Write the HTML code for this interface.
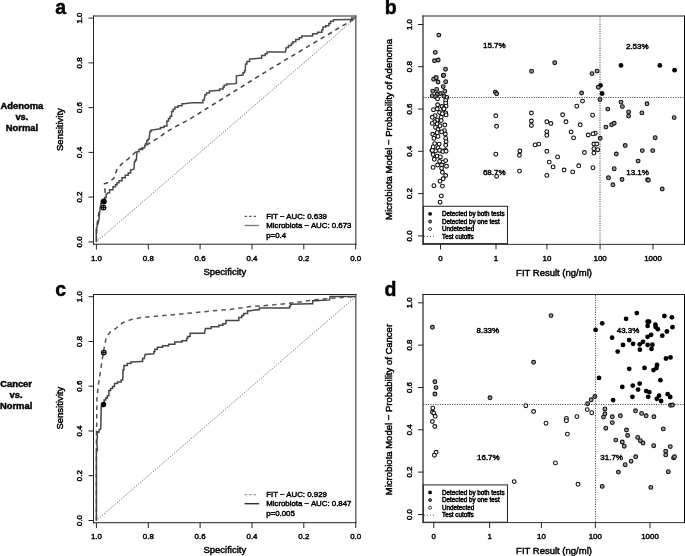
<!DOCTYPE html>
<html><head><meta charset="utf-8"><style>
html,body{margin:0;padding:0;background:#fff;}
svg{display:block;will-change:transform;}
text{font-family:"Liberation Sans", sans-serif;fill:#000;stroke:#000;stroke-width:0.45px;}
</style></head><body>
<svg width="685" height="556" viewBox="0 0 685 556">
<rect width="685" height="556" fill="#fff"/>
<path d="M93.5 15.50V244.70M93 244.20H356.35M355.85 244.70V15.50" fill="none" stroke="#222" stroke-width="1"/>
<line x1="93" y1="16.00" x2="356.35" y2="16.00" stroke="#222" stroke-width="1.15"/>
<line x1="96.4" y1="244.1" x2="96.4" y2="249.4" stroke="#222" stroke-width="1"/>
<text x="96.4" y="261.2" text-anchor="middle" font-size="7.9">1.0</text>
<line x1="148.3" y1="244.1" x2="148.3" y2="249.4" stroke="#222" stroke-width="1"/>
<text x="148.3" y="261.2" text-anchor="middle" font-size="7.9">0.8</text>
<line x1="200.1" y1="244.1" x2="200.1" y2="249.4" stroke="#222" stroke-width="1"/>
<text x="200.1" y="261.2" text-anchor="middle" font-size="7.9">0.6</text>
<line x1="252.0" y1="244.1" x2="252.0" y2="249.4" stroke="#222" stroke-width="1"/>
<text x="252.0" y="261.2" text-anchor="middle" font-size="7.9">0.4</text>
<line x1="303.8" y1="244.1" x2="303.8" y2="249.4" stroke="#222" stroke-width="1"/>
<text x="303.8" y="261.2" text-anchor="middle" font-size="7.9">0.2</text>
<line x1="355.7" y1="244.1" x2="355.7" y2="249.4" stroke="#222" stroke-width="1"/>
<text x="355.7" y="261.2" text-anchor="middle" font-size="7.9">0.0</text>
<line x1="88.5" y1="241.9" x2="93.6" y2="241.9" stroke="#222" stroke-width="1"/>
<text transform="translate(82.4,241.9) rotate(-90)" text-anchor="middle" font-size="7.9">0.0</text>
<line x1="88.5" y1="197.1" x2="93.6" y2="197.1" stroke="#222" stroke-width="1"/>
<text transform="translate(82.4,197.1) rotate(-90)" text-anchor="middle" font-size="7.9">0.2</text>
<line x1="88.5" y1="152.4" x2="93.6" y2="152.4" stroke="#222" stroke-width="1"/>
<text transform="translate(82.4,152.4) rotate(-90)" text-anchor="middle" font-size="7.9">0.4</text>
<line x1="88.5" y1="107.6" x2="93.6" y2="107.6" stroke="#222" stroke-width="1"/>
<text transform="translate(82.4,107.6) rotate(-90)" text-anchor="middle" font-size="7.9">0.6</text>
<line x1="88.5" y1="62.9" x2="93.6" y2="62.9" stroke="#222" stroke-width="1"/>
<text transform="translate(82.4,62.9) rotate(-90)" text-anchor="middle" font-size="7.9">0.8</text>
<line x1="88.5" y1="18.1" x2="93.6" y2="18.1" stroke="#222" stroke-width="1"/>
<text transform="translate(82.4,18.1) rotate(-90)" text-anchor="middle" font-size="7.9">1.0</text>
<text x="224.8" y="275.0" text-anchor="middle" font-size="9.5">Specificity</text>
<text transform="translate(62.6,129.6) rotate(-90)" text-anchor="middle" font-size="9.5">Sensitivity</text>
<line x1="96.4" y1="241.9" x2="355.7" y2="18.1" stroke="#333" stroke-width="0.8" stroke-dasharray="1 1.5"/>
<polyline points="96.4,241.9 97.0,225.0 99.0,212.0 101.0,207.0 103.5,205.0 105.4,193.7 104.9,189.7 104.4,183.8 107.4,182.8 111.8,179.8 113.8,178.3 115.3,173.9 116.8,169.9 119.7,166.0 122.2,163.5 126.7,160.0 128.0,159.1 136.1,151.5 142.6,147.8 150.7,142.4 158.8,137.6 166.9,131.6 174.0,127.5 189.0,119.6 267.1,70.9 347.6,22.8 355.7,18.1" fill="none" stroke="#444" stroke-width="1.5" stroke-dasharray="4.5 4"/>
<polyline points="96.4,241.9 96.2,229.5 97.0,226.8 97.8,224.0 98.7,221.4 99.4,214.6 100.0,209.2 100.8,203.8 101.4,203.8 101.4,201.1 102.1,201.1 103.9,200.6 104.7,200.6 104.7,197.4 105.4,197.4 106.2,197.4 106.2,194.2 106.9,194.2 107.9,192.7 109.6,192.7 109.6,189.7 111.3,189.7 113.0,189.7 113.0,186.7 114.8,186.7 115.5,186.7 115.5,184.8 116.3,184.8 117.0,184.8 117.0,182.8 117.8,182.8 119.0,182.8 119.0,180.8 120.2,180.8 122.0,180.8 122.0,177.8 123.7,177.8 125.2,177.8 125.2,175.3 126.7,175.3 128.2,175.3 128.2,172.9 129.6,172.9 130.6,172.9 130.6,169.9 131.6,169.9 134.0,168.9 134.5,161.5 135.4,161.5 135.4,159.9 136.4,159.9 136.9,151.8 138.9,151.8 138.9,149.4 141.0,149.4 142.6,149.4 142.6,147.8 144.2,147.8 144.7,147.8 144.7,145.6 145.1,145.6 145.6,145.6 145.6,143.4 146.1,143.4 146.8,143.4 146.8,140.5 147.4,140.5 148.2,140.5 148.2,138.9 149.1,138.9 149.9,131.6 151.1,131.6 151.1,130.0 152.3,130.0 158.8,129.1 160.4,129.1 160.4,127.5 162.0,127.5 164.1,127.5 164.1,125.9 166.1,125.9 166.9,125.9 166.9,121.0 167.7,121.0 168.5,121.0 168.5,118.6 169.3,118.6 170.1,118.6 170.1,116.2 170.9,116.2 171.6,116.2 171.6,111.5 172.2,111.5 173.1,111.5 173.1,109.3 174.0,109.3 174.9,109.3 174.9,107.2 175.8,107.2 178.0,107.2 178.0,105.7 180.2,105.7 182.1,105.7 182.1,103.8 183.9,103.8 191.9,102.8 201.4,102.8 202.9,102.8 202.9,99.9 204.3,99.9 205.0,94.7 206.5,94.7 206.5,92.9 207.9,92.9 209.4,92.9 209.4,91.1 210.9,91.1 216.7,90.4 219.6,90.4 219.6,88.9 222.6,88.9 223.1,88.9 223.1,87.1 223.7,87.1 224.2,87.1 224.2,85.3 224.7,85.3 226.6,85.3 226.6,84.1 228.4,84.1 234.2,83.8 236.4,83.1 236.4,75.8 242.3,75.0 243.0,75.0 243.0,72.8 243.8,72.8 244.5,72.8 244.5,70.7 245.2,70.7 245.6,64.1 246.9,64.1 246.9,61.5 248.3,61.5 249.6,61.5 249.6,59.0 251.0,59.0 259.0,58.2 261.7,58.2 261.7,55.6 264.4,55.6 265.3,55.6 265.3,53.8 266.2,53.8 267.1,53.8 267.1,52.0 268.0,52.0 285.5,52.0 286.3,47.6 288.5,47.6 288.5,45.4 290.7,45.4 291.4,45.4 291.4,43.5 292.2,43.5 292.9,43.5 292.9,41.7 293.6,41.7 295.8,41.7 295.8,39.5 298.0,39.5 299.3,39.5 299.3,37.7 300.5,37.7 301.8,37.7 301.8,35.9 303.1,35.9 311.1,35.9 312.6,35.9 312.6,33.7 314.0,33.7 317.6,33.7 317.6,32.2 321.3,32.2 321.9,32.2 321.9,29.7 322.4,29.7 323.0,29.7 323.0,27.1 323.5,27.1 325.7,27.1 325.7,25.7 327.9,25.7 328.8,25.7 328.8,23.5 329.7,23.5 330.6,23.5 330.6,21.3 331.5,21.3 333.4,21.3 333.4,19.8 335.2,19.8 347.6,19.5 351.6,19.5 351.6,18.1 355.6,18.1" fill="none" stroke="#4a4a4a" stroke-width="1.5"/>
<circle cx="103.8" cy="201.5" r="3" fill="#000"/>
<circle cx="103.5" cy="207.6" r="2.3" fill="#fff" stroke="#000" stroke-width="1.3"/>
<path d="M101.3 207.6h4.4M103.5 205.4v4.4" stroke="#000" stroke-width="1"/>
<line x1="244.6" y1="216.4" x2="256" y2="216.4" stroke="#555" stroke-width="1.2" stroke-dasharray="2.5 2"/>
<line x1="244.6" y1="225.5" x2="259.2" y2="225.5" stroke="#777" stroke-width="1.3"/>
<text x="266.2" y="219.2" font-size="7.85">FIT − AUC: 0.639</text>
<text x="266.2" y="228.3" font-size="7.85">Microbiota − AUC: 0.673</text>
<text x="266.2" y="237.9" font-size="7.85">p=0.4</text>
<path d="M93.5 294.00V523.20M93 522.70H356.35M355.85 523.20V294.00" fill="none" stroke="#222" stroke-width="1"/>
<line x1="93" y1="294.50" x2="356.35" y2="294.50" stroke="#222" stroke-width="1"/>
<line x1="96.4" y1="522.7" x2="96.4" y2="528.0" stroke="#222" stroke-width="1"/>
<text x="96.4" y="539.3" text-anchor="middle" font-size="7.9">1.0</text>
<line x1="148.3" y1="522.7" x2="148.3" y2="528.0" stroke="#222" stroke-width="1"/>
<text x="148.3" y="539.3" text-anchor="middle" font-size="7.9">0.8</text>
<line x1="200.1" y1="522.7" x2="200.1" y2="528.0" stroke="#222" stroke-width="1"/>
<text x="200.1" y="539.3" text-anchor="middle" font-size="7.9">0.6</text>
<line x1="252.0" y1="522.7" x2="252.0" y2="528.0" stroke="#222" stroke-width="1"/>
<text x="252.0" y="539.3" text-anchor="middle" font-size="7.9">0.4</text>
<line x1="303.8" y1="522.7" x2="303.8" y2="528.0" stroke="#222" stroke-width="1"/>
<text x="303.8" y="539.3" text-anchor="middle" font-size="7.9">0.2</text>
<line x1="355.7" y1="522.7" x2="355.7" y2="528.0" stroke="#222" stroke-width="1"/>
<text x="355.7" y="539.3" text-anchor="middle" font-size="7.9">0.0</text>
<line x1="88.5" y1="520.5" x2="93.6" y2="520.5" stroke="#222" stroke-width="1"/>
<text transform="translate(82.4,520.5) rotate(-90)" text-anchor="middle" font-size="7.9">0.0</text>
<line x1="88.5" y1="475.7" x2="93.6" y2="475.7" stroke="#222" stroke-width="1"/>
<text transform="translate(82.4,475.7) rotate(-90)" text-anchor="middle" font-size="7.9">0.2</text>
<line x1="88.5" y1="431.0" x2="93.6" y2="431.0" stroke="#222" stroke-width="1"/>
<text transform="translate(82.4,431.0) rotate(-90)" text-anchor="middle" font-size="7.9">0.4</text>
<line x1="88.5" y1="386.2" x2="93.6" y2="386.2" stroke="#222" stroke-width="1"/>
<text transform="translate(82.4,386.2) rotate(-90)" text-anchor="middle" font-size="7.9">0.6</text>
<line x1="88.5" y1="341.5" x2="93.6" y2="341.5" stroke="#222" stroke-width="1"/>
<text transform="translate(82.4,341.5) rotate(-90)" text-anchor="middle" font-size="7.9">0.8</text>
<line x1="88.5" y1="296.7" x2="93.6" y2="296.7" stroke="#222" stroke-width="1"/>
<text transform="translate(82.4,296.7) rotate(-90)" text-anchor="middle" font-size="7.9">1.0</text>
<text x="224.8" y="553.0" text-anchor="middle" font-size="9.5">Specificity</text>
<text transform="translate(62.6,408.2) rotate(-90)" text-anchor="middle" font-size="9.5">Sensitivity</text>
<line x1="96.4" y1="520.5" x2="355.7" y2="296.7" stroke="#333" stroke-width="0.8" stroke-dasharray="1 1.5"/>
<polyline points="96.4,520.6 96.4,440.0 96.7,425.0 96.9,399.0 98.2,386.1 99.8,375.8 101.9,361.5 104.3,347.2 106.3,337.0 110.4,331.9 116.6,327.8 122.7,322.7 130.9,319.6 141.1,317.6 151.3,316.6 171.7,314.9 192.2,312.9 212.6,310.8 230.0,309.4 248.7,306.8 274.3,304.8 294.0,302.8 313.7,299.9 331.4,298.3 355.7,296.5" fill="none" stroke="#555" stroke-width="1.5" stroke-dasharray="4.5 4"/>
<polyline points="96.4,520.6 96.4,452.0 97.4,449.9 96.7,441.8 97.4,436.4 96.7,431.6 98.8,432.3 99.4,429.6 100.8,428.9 101.2,406.6 102.3,406.6 102.3,404.6 103.5,404.6 104.2,404.6 104.2,399.9 104.8,399.9 105.7,399.9 105.7,397.9 106.5,397.9 107.3,397.9 107.3,395.8 108.2,395.8 108.9,395.8 108.9,390.4 109.6,390.4 110.6,390.4 110.6,388.4 111.6,388.4 112.6,388.4 112.6,386.4 113.6,386.4 114.5,386.4 114.5,383.6 115.5,383.6 117.5,383.6 117.5,382.0 119.6,382.0 121.2,382.0 121.2,379.9 122.7,379.9 123.1,369.7 123.9,369.7 123.9,365.6 124.7,365.6 127.3,365.6 127.3,363.6 129.9,363.6 130.9,363.6 130.9,361.9 131.9,361.9 141.1,361.5 142.6,361.5 142.6,358.5 144.2,358.5 145.2,354.4 153.4,353.8 153.9,353.8 153.9,351.6 154.4,351.6 154.9,351.6 154.9,349.3 155.4,349.3 157.4,349.3 157.4,347.2 159.5,347.2 162.6,347.2 162.6,345.8 165.6,345.8 168.6,345.8 168.6,344.2 171.7,344.2 174.8,344.2 174.8,342.1 177.9,342.1 182.0,342.1 182.0,340.7 186.1,340.7 186.6,340.7 186.6,338.6 187.1,338.6 187.6,338.6 187.6,336.6 188.1,336.6 190.1,336.6 190.1,333.3 192.2,333.3 204.4,333.3 205.5,328.4 211.1,328.4 211.1,326.8 216.7,326.8 218.8,326.8 218.8,325.2 220.8,325.2 222.9,325.2 222.9,323.7 224.9,323.7 225.9,323.7 225.9,320.5 227.0,320.5 236.8,320.5 238.8,320.5 238.8,317.6 240.8,317.6 241.8,317.6 241.8,315.6 242.8,315.6 243.7,315.6 243.7,313.6 244.7,313.6 247.6,313.6 247.6,310.7 250.6,310.7 256.5,309.7 259.4,309.7 259.4,308.1 262.4,308.1 289.1,308.1 289.6,308.1 289.6,306.1 290.1,306.1 290.5,306.1 290.5,304.2 291.0,304.2 309.7,303.8 312.7,303.8 312.7,300.8 315.7,300.8 329.5,299.9 330.1,296.5 355.7,296.5" fill="none" stroke="#444" stroke-width="1.5"/>
<circle cx="103.5" cy="404.5" r="2.7" fill="#000"/>
<circle cx="103.8" cy="352.6" r="2.3" fill="#fff" stroke="#000" stroke-width="1.3"/>
<path d="M101.6 352.6h4.4M103.8 350.4v4.4" stroke="#000" stroke-width="1"/>
<line x1="244.6" y1="494.6" x2="256" y2="494.6" stroke="#999" stroke-width="1.2" stroke-dasharray="2.5 2"/>
<line x1="244.6" y1="503.7" x2="259.2" y2="503.7" stroke="#222" stroke-width="1.3"/>
<text x="266.2" y="497.0" font-size="7.85">FIT − AUC: 0.929</text>
<text x="266.2" y="506.1" font-size="7.85">Microbiota − AUC: 0.847</text>
<text x="266.2" y="515.6" font-size="7.85">p=0.005</text>
<circle cx="438.8" cy="35.1" r="1.9" fill="#999" stroke="#111" stroke-width="1.1"/>
<circle cx="435.3" cy="52.4" r="1.9" fill="#999" stroke="#111" stroke-width="1.1"/>
<circle cx="434.5" cy="60.8" r="1.9" fill="#999" stroke="#111" stroke-width="1.1"/>
<circle cx="438.2" cy="60.0" r="1.9" fill="#999" stroke="#111" stroke-width="1.1"/>
<circle cx="445.5" cy="69.2" r="1.9" fill="#999" stroke="#111" stroke-width="1.1"/>
<circle cx="443.4" cy="75.6" r="1.9" fill="#999" stroke="#111" stroke-width="1.1"/>
<circle cx="435.8" cy="77.8" r="1.9" fill="#999" stroke="#111" stroke-width="1.1"/>
<circle cx="433.6" cy="79.2" r="1.9" fill="#999" stroke="#111" stroke-width="1.1"/>
<circle cx="443.6" cy="75.3" r="1.9" fill="#999" stroke="#111" stroke-width="1.1"/>
<circle cx="436.3" cy="77.7" r="1.9" fill="#999" stroke="#111" stroke-width="1.1"/>
<circle cx="438.0" cy="82.0" r="1.9" fill="#999" stroke="#111" stroke-width="1.1"/>
<circle cx="445.7" cy="81.7" r="1.9" fill="#999" stroke="#111" stroke-width="1.1"/>
<circle cx="443.2" cy="86.6" r="1.9" fill="#999" stroke="#111" stroke-width="1.1"/>
<circle cx="432.7" cy="91.1" r="1.9" fill="#999" stroke="#111" stroke-width="1.1"/>
<circle cx="436.7" cy="89.4" r="1.9" fill="#999" stroke="#111" stroke-width="1.1"/>
<circle cx="444.8" cy="91.2" r="1.9" fill="#999" stroke="#111" stroke-width="1.1"/>
<circle cx="440.4" cy="93.5" r="1.9" fill="#999" stroke="#111" stroke-width="1.1"/>
<circle cx="437.2" cy="94.3" r="1.9" fill="#999" stroke="#111" stroke-width="1.1"/>
<circle cx="432.3" cy="95.9" r="1.9" fill="#999" stroke="#111" stroke-width="1.1"/>
<circle cx="435.5" cy="96.7" r="1.9" fill="#999" stroke="#111" stroke-width="1.1"/>
<circle cx="444.0" cy="96.3" r="1.9" fill="#999" stroke="#111" stroke-width="1.1"/>
<circle cx="446.9" cy="97.5" r="1.9" fill="#fff" stroke="#111" stroke-width="1.1"/>
<circle cx="437.6" cy="98.8" r="1.9" fill="#fff" stroke="#111" stroke-width="1.1"/>
<circle cx="445.7" cy="100.4" r="1.9" fill="#fff" stroke="#111" stroke-width="1.1"/>
<circle cx="445.7" cy="103.2" r="1.9" fill="#fff" stroke="#111" stroke-width="1.1"/>
<circle cx="437.6" cy="104.8" r="1.9" fill="#fff" stroke="#111" stroke-width="1.1"/>
<circle cx="442.0" cy="106.5" r="1.9" fill="#fff" stroke="#111" stroke-width="1.1"/>
<circle cx="446.1" cy="106.1" r="1.9" fill="#fff" stroke="#111" stroke-width="1.1"/>
<circle cx="443.6" cy="108.9" r="1.9" fill="#fff" stroke="#111" stroke-width="1.1"/>
<circle cx="433.5" cy="109.7" r="1.9" fill="#fff" stroke="#111" stroke-width="1.1"/>
<circle cx="439.6" cy="112.5" r="1.9" fill="#fff" stroke="#111" stroke-width="1.1"/>
<circle cx="445.7" cy="112.9" r="1.9" fill="#fff" stroke="#111" stroke-width="1.1"/>
<circle cx="437.2" cy="108.8" r="1.9" fill="#fff" stroke="#111" stroke-width="1.1"/>
<circle cx="444.0" cy="108.8" r="1.9" fill="#fff" stroke="#111" stroke-width="1.1"/>
<circle cx="442.4" cy="113.7" r="1.9" fill="#fff" stroke="#111" stroke-width="1.1"/>
<circle cx="446.1" cy="114.9" r="1.9" fill="#fff" stroke="#111" stroke-width="1.1"/>
<circle cx="435.1" cy="115.7" r="1.9" fill="#fff" stroke="#111" stroke-width="1.1"/>
<circle cx="432.3" cy="117.3" r="1.9" fill="#fff" stroke="#111" stroke-width="1.1"/>
<circle cx="441.2" cy="117.3" r="1.9" fill="#fff" stroke="#111" stroke-width="1.1"/>
<circle cx="437.2" cy="120.2" r="1.9" fill="#fff" stroke="#111" stroke-width="1.1"/>
<circle cx="441.2" cy="120.6" r="1.9" fill="#fff" stroke="#111" stroke-width="1.1"/>
<circle cx="434.7" cy="121.8" r="1.9" fill="#fff" stroke="#111" stroke-width="1.1"/>
<circle cx="432.3" cy="123.4" r="1.9" fill="#fff" stroke="#111" stroke-width="1.1"/>
<circle cx="437.2" cy="123.8" r="1.9" fill="#fff" stroke="#111" stroke-width="1.1"/>
<circle cx="444.8" cy="125.0" r="1.9" fill="#fff" stroke="#111" stroke-width="1.1"/>
<circle cx="440.0" cy="125.8" r="1.9" fill="#fff" stroke="#111" stroke-width="1.1"/>
<circle cx="435.5" cy="127.4" r="1.9" fill="#fff" stroke="#111" stroke-width="1.1"/>
<circle cx="438.0" cy="129.5" r="1.9" fill="#fff" stroke="#111" stroke-width="1.1"/>
<circle cx="444.4" cy="130.7" r="1.9" fill="#fff" stroke="#111" stroke-width="1.1"/>
<circle cx="441.6" cy="131.9" r="1.9" fill="#fff" stroke="#111" stroke-width="1.1"/>
<circle cx="437.2" cy="132.7" r="1.9" fill="#fff" stroke="#111" stroke-width="1.1"/>
<circle cx="432.7" cy="134.3" r="1.9" fill="#fff" stroke="#111" stroke-width="1.1"/>
<circle cx="445.3" cy="134.0" r="1.9" fill="#fff" stroke="#111" stroke-width="1.1"/>
<circle cx="434.7" cy="136.4" r="1.9" fill="#fff" stroke="#111" stroke-width="1.1"/>
<circle cx="438.0" cy="136.4" r="1.9" fill="#fff" stroke="#111" stroke-width="1.1"/>
<circle cx="433.9" cy="138.4" r="1.9" fill="#fff" stroke="#111" stroke-width="1.1"/>
<circle cx="445.7" cy="138.4" r="1.9" fill="#fff" stroke="#111" stroke-width="1.1"/>
<circle cx="446.1" cy="141.6" r="1.9" fill="#fff" stroke="#111" stroke-width="1.1"/>
<circle cx="434.7" cy="143.6" r="1.9" fill="#fff" stroke="#111" stroke-width="1.1"/>
<circle cx="439.2" cy="144.1" r="1.9" fill="#fff" stroke="#111" stroke-width="1.1"/>
<circle cx="445.7" cy="145.3" r="1.9" fill="#fff" stroke="#111" stroke-width="1.1"/>
<circle cx="433.1" cy="146.9" r="1.9" fill="#fff" stroke="#111" stroke-width="1.1"/>
<circle cx="438.0" cy="147.7" r="1.9" fill="#fff" stroke="#111" stroke-width="1.1"/>
<circle cx="431.9" cy="150.5" r="1.9" fill="#fff" stroke="#111" stroke-width="1.1"/>
<circle cx="435.5" cy="150.9" r="1.9" fill="#fff" stroke="#111" stroke-width="1.1"/>
<circle cx="441.6" cy="150.9" r="1.9" fill="#fff" stroke="#111" stroke-width="1.1"/>
<circle cx="445.3" cy="150.1" r="1.9" fill="#fff" stroke="#111" stroke-width="1.1"/>
<circle cx="432.3" cy="150.4" r="1.9" fill="#fff" stroke="#111" stroke-width="1.1"/>
<circle cx="439.6" cy="150.4" r="1.9" fill="#fff" stroke="#111" stroke-width="1.1"/>
<circle cx="442.8" cy="151.6" r="1.9" fill="#fff" stroke="#111" stroke-width="1.1"/>
<circle cx="446.1" cy="151.2" r="1.9" fill="#fff" stroke="#111" stroke-width="1.1"/>
<circle cx="433.1" cy="154.5" r="1.9" fill="#fff" stroke="#111" stroke-width="1.1"/>
<circle cx="437.2" cy="156.1" r="1.9" fill="#fff" stroke="#111" stroke-width="1.1"/>
<circle cx="440.4" cy="156.9" r="1.9" fill="#fff" stroke="#111" stroke-width="1.1"/>
<circle cx="434.3" cy="159.3" r="1.9" fill="#fff" stroke="#111" stroke-width="1.1"/>
<circle cx="439.6" cy="161.4" r="1.9" fill="#fff" stroke="#111" stroke-width="1.1"/>
<circle cx="443.2" cy="162.2" r="1.9" fill="#fff" stroke="#111" stroke-width="1.1"/>
<circle cx="445.7" cy="160.6" r="1.9" fill="#fff" stroke="#111" stroke-width="1.1"/>
<circle cx="437.6" cy="165.0" r="1.9" fill="#fff" stroke="#111" stroke-width="1.1"/>
<circle cx="441.6" cy="165.0" r="1.9" fill="#fff" stroke="#111" stroke-width="1.1"/>
<circle cx="433.1" cy="167.4" r="1.9" fill="#fff" stroke="#111" stroke-width="1.1"/>
<circle cx="446.5" cy="166.2" r="1.9" fill="#fff" stroke="#111" stroke-width="1.1"/>
<circle cx="441.6" cy="168.3" r="1.9" fill="#fff" stroke="#111" stroke-width="1.1"/>
<circle cx="442.4" cy="172.3" r="1.9" fill="#fff" stroke="#111" stroke-width="1.1"/>
<circle cx="445.7" cy="175.5" r="1.9" fill="#fff" stroke="#111" stroke-width="1.1"/>
<circle cx="443.2" cy="178.8" r="1.9" fill="#fff" stroke="#111" stroke-width="1.1"/>
<circle cx="440.0" cy="181.2" r="1.9" fill="#fff" stroke="#111" stroke-width="1.1"/>
<circle cx="433.9" cy="185.7" r="1.9" fill="#fff" stroke="#111" stroke-width="1.1"/>
<circle cx="442.4" cy="186.1" r="1.9" fill="#fff" stroke="#111" stroke-width="1.1"/>
<circle cx="441.3" cy="195.9" r="1.9" fill="#fff" stroke="#111" stroke-width="1.1"/>
<circle cx="440.1" cy="202.2" r="1.9" fill="#fff" stroke="#111" stroke-width="1.1"/>
<circle cx="554.7" cy="62.8" r="1.9" fill="#999" stroke="#111" stroke-width="1.1"/>
<circle cx="531.6" cy="71.2" r="1.9" fill="#999" stroke="#111" stroke-width="1.1"/>
<circle cx="495.3" cy="92.1" r="1.9" fill="#999" stroke="#111" stroke-width="1.1"/>
<circle cx="496.6" cy="93.8" r="1.9" fill="#999" stroke="#111" stroke-width="1.1"/>
<circle cx="495.8" cy="115.8" r="1.9" fill="#fff" stroke="#111" stroke-width="1.1"/>
<circle cx="496.6" cy="126.3" r="1.9" fill="#fff" stroke="#111" stroke-width="1.1"/>
<circle cx="531.4" cy="113.0" r="1.9" fill="#fff" stroke="#111" stroke-width="1.1"/>
<circle cx="531.4" cy="121.0" r="1.9" fill="#fff" stroke="#111" stroke-width="1.1"/>
<circle cx="531.4" cy="125.5" r="1.9" fill="#fff" stroke="#111" stroke-width="1.1"/>
<circle cx="546.8" cy="121.8" r="1.9" fill="#fff" stroke="#111" stroke-width="1.1"/>
<circle cx="550.9" cy="123.5" r="1.9" fill="#fff" stroke="#111" stroke-width="1.1"/>
<circle cx="546.8" cy="131.6" r="1.9" fill="#fff" stroke="#111" stroke-width="1.1"/>
<circle cx="546.8" cy="135.3" r="1.9" fill="#fff" stroke="#111" stroke-width="1.1"/>
<circle cx="535.1" cy="144.9" r="1.9" fill="#fff" stroke="#111" stroke-width="1.1"/>
<circle cx="538.8" cy="144.1" r="1.9" fill="#fff" stroke="#111" stroke-width="1.1"/>
<circle cx="546.8" cy="151.3" r="1.9" fill="#fff" stroke="#111" stroke-width="1.1"/>
<circle cx="557.6" cy="156.9" r="1.9" fill="#fff" stroke="#111" stroke-width="1.1"/>
<circle cx="495.8" cy="154.2" r="1.9" fill="#fff" stroke="#111" stroke-width="1.1"/>
<circle cx="519.9" cy="151.0" r="1.9" fill="#fff" stroke="#111" stroke-width="1.1"/>
<circle cx="519.4" cy="155.3" r="1.9" fill="#fff" stroke="#111" stroke-width="1.1"/>
<circle cx="549.2" cy="162.1" r="1.9" fill="#fff" stroke="#111" stroke-width="1.1"/>
<circle cx="553.1" cy="166.9" r="1.9" fill="#fff" stroke="#111" stroke-width="1.1"/>
<circle cx="519.5" cy="171.1" r="1.9" fill="#fff" stroke="#111" stroke-width="1.1"/>
<circle cx="546.8" cy="175.4" r="1.9" fill="#fff" stroke="#111" stroke-width="1.1"/>
<circle cx="496.6" cy="176.2" r="1.9" fill="#fff" stroke="#111" stroke-width="1.1"/>
<circle cx="621.0" cy="65.4" r="2.4" fill="#000"/>
<circle cx="659.8" cy="65.4" r="2.4" fill="#000"/>
<circle cx="674.6" cy="70.2" r="2.4" fill="#000"/>
<circle cx="597.1" cy="71.1" r="1.9" fill="#999" stroke="#111" stroke-width="1.1"/>
<circle cx="592.0" cy="73.6" r="1.9" fill="#999" stroke="#111" stroke-width="1.1"/>
<circle cx="600.5" cy="85.4" r="2.4" fill="#000"/>
<circle cx="598.3" cy="87.3" r="1.9" fill="#999" stroke="#111" stroke-width="1.1"/>
<circle cx="602.1" cy="93.5" r="2.4" fill="#000"/>
<circle cx="581.6" cy="93.0" r="1.9" fill="#999" stroke="#111" stroke-width="1.1"/>
<circle cx="582.5" cy="101.1" r="1.9" fill="#fff" stroke="#111" stroke-width="1.1"/>
<circle cx="600.0" cy="99.6" r="1.9" fill="#999" stroke="#111" stroke-width="1.1"/>
<circle cx="576.8" cy="106.2" r="1.9" fill="#fff" stroke="#111" stroke-width="1.1"/>
<circle cx="621.0" cy="102.1" r="1.9" fill="#999" stroke="#111" stroke-width="1.1"/>
<circle cx="622.4" cy="106.6" r="1.9" fill="#999" stroke="#111" stroke-width="1.1"/>
<circle cx="647.0" cy="103.8" r="1.9" fill="#999" stroke="#111" stroke-width="1.1"/>
<circle cx="607.8" cy="109.1" r="1.9" fill="#999" stroke="#111" stroke-width="1.1"/>
<circle cx="562.6" cy="114.8" r="1.9" fill="#fff" stroke="#111" stroke-width="1.1"/>
<circle cx="592.6" cy="115.2" r="1.9" fill="#fff" stroke="#111" stroke-width="1.1"/>
<circle cx="628.6" cy="111.9" r="1.9" fill="#999" stroke="#111" stroke-width="1.1"/>
<circle cx="628.6" cy="116.1" r="1.9" fill="#999" stroke="#111" stroke-width="1.1"/>
<circle cx="641.9" cy="112.9" r="1.9" fill="#999" stroke="#111" stroke-width="1.1"/>
<circle cx="674.2" cy="117.6" r="1.9" fill="#999" stroke="#111" stroke-width="1.1"/>
<circle cx="566.0" cy="121.8" r="1.9" fill="#fff" stroke="#111" stroke-width="1.1"/>
<circle cx="580.2" cy="124.8" r="1.9" fill="#fff" stroke="#111" stroke-width="1.1"/>
<circle cx="605.9" cy="127.1" r="1.9" fill="#999" stroke="#111" stroke-width="1.1"/>
<circle cx="611.6" cy="124.8" r="1.9" fill="#999" stroke="#111" stroke-width="1.1"/>
<circle cx="614.2" cy="123.3" r="1.9" fill="#999" stroke="#111" stroke-width="1.1"/>
<circle cx="571.1" cy="131.9" r="1.9" fill="#fff" stroke="#111" stroke-width="1.1"/>
<circle cx="588.2" cy="135.0" r="1.9" fill="#fff" stroke="#111" stroke-width="1.1"/>
<circle cx="595.2" cy="133.2" r="1.9" fill="#fff" stroke="#111" stroke-width="1.1"/>
<circle cx="573.6" cy="137.9" r="1.9" fill="#fff" stroke="#111" stroke-width="1.1"/>
<circle cx="593.0" cy="133.9" r="1.9" fill="#fff" stroke="#111" stroke-width="1.1"/>
<circle cx="600.2" cy="138.3" r="1.9" fill="#999" stroke="#111" stroke-width="1.1"/>
<circle cx="655.2" cy="137.7" r="1.9" fill="#999" stroke="#111" stroke-width="1.1"/>
<circle cx="625.2" cy="145.5" r="1.9" fill="#999" stroke="#111" stroke-width="1.1"/>
<circle cx="593.9" cy="144.0" r="1.9" fill="#fff" stroke="#111" stroke-width="1.1"/>
<circle cx="596.8" cy="144.0" r="1.9" fill="#fff" stroke="#111" stroke-width="1.1"/>
<circle cx="593.9" cy="148.7" r="1.9" fill="#fff" stroke="#111" stroke-width="1.1"/>
<circle cx="597.7" cy="149.7" r="1.9" fill="#fff" stroke="#111" stroke-width="1.1"/>
<circle cx="593.9" cy="153.1" r="1.9" fill="#fff" stroke="#111" stroke-width="1.1"/>
<circle cx="584.4" cy="152.5" r="1.9" fill="#fff" stroke="#111" stroke-width="1.1"/>
<circle cx="642.3" cy="150.6" r="1.9" fill="#999" stroke="#111" stroke-width="1.1"/>
<circle cx="652.7" cy="150.6" r="1.9" fill="#999" stroke="#111" stroke-width="1.1"/>
<circle cx="616.3" cy="154.0" r="1.9" fill="#999" stroke="#111" stroke-width="1.1"/>
<circle cx="638.1" cy="161.1" r="1.9" fill="#999" stroke="#111" stroke-width="1.1"/>
<circle cx="564.1" cy="170.0" r="1.9" fill="#fff" stroke="#111" stroke-width="1.1"/>
<circle cx="572.7" cy="171.9" r="1.9" fill="#fff" stroke="#111" stroke-width="1.1"/>
<circle cx="578.7" cy="165.8" r="1.9" fill="#fff" stroke="#111" stroke-width="1.1"/>
<circle cx="593.0" cy="167.7" r="1.9" fill="#fff" stroke="#111" stroke-width="1.1"/>
<circle cx="614.2" cy="168.7" r="1.9" fill="#999" stroke="#111" stroke-width="1.1"/>
<circle cx="608.5" cy="177.8" r="1.9" fill="#999" stroke="#111" stroke-width="1.1"/>
<circle cx="622.0" cy="179.5" r="1.9" fill="#999" stroke="#111" stroke-width="1.1"/>
<circle cx="612.9" cy="184.8" r="1.9" fill="#999" stroke="#111" stroke-width="1.1"/>
<circle cx="647.6" cy="179.7" r="1.9" fill="#999" stroke="#111" stroke-width="1.1"/>
<circle cx="648.4" cy="180.2" r="1.9" fill="#999" stroke="#111" stroke-width="1.1"/>
<circle cx="662.2" cy="189.0" r="1.9" fill="#999" stroke="#111" stroke-width="1.1"/>
<circle cx="432.4" cy="327.3" r="1.9" fill="#999" stroke="#111" stroke-width="1.1"/>
<circle cx="434.9" cy="381.8" r="1.9" fill="#999" stroke="#111" stroke-width="1.1"/>
<circle cx="436.0" cy="387.6" r="1.9" fill="#999" stroke="#111" stroke-width="1.1"/>
<circle cx="434.9" cy="394.0" r="1.9" fill="#999" stroke="#111" stroke-width="1.1"/>
<circle cx="490.0" cy="397.8" r="1.9" fill="#999" stroke="#111" stroke-width="1.1"/>
<circle cx="432.8" cy="408.1" r="1.9" fill="#fff" stroke="#111" stroke-width="1.1"/>
<circle cx="432.4" cy="412.0" r="1.9" fill="#fff" stroke="#111" stroke-width="1.1"/>
<circle cx="433.8" cy="413.2" r="1.9" fill="#fff" stroke="#111" stroke-width="1.1"/>
<circle cx="435.2" cy="416.3" r="1.9" fill="#fff" stroke="#111" stroke-width="1.1"/>
<circle cx="432.4" cy="421.5" r="1.9" fill="#fff" stroke="#111" stroke-width="1.1"/>
<circle cx="434.8" cy="426.5" r="1.9" fill="#fff" stroke="#111" stroke-width="1.1"/>
<circle cx="436.1" cy="452.3" r="1.9" fill="#fff" stroke="#111" stroke-width="1.1"/>
<circle cx="434.4" cy="455.2" r="1.9" fill="#fff" stroke="#111" stroke-width="1.1"/>
<circle cx="551.1" cy="315.6" r="1.9" fill="#999" stroke="#111" stroke-width="1.1"/>
<circle cx="595.6" cy="329.9" r="2.4" fill="#000"/>
<circle cx="533.6" cy="362.3" r="1.9" fill="#999" stroke="#111" stroke-width="1.1"/>
<circle cx="599.0" cy="377.9" r="2.4" fill="#000"/>
<circle cx="594.9" cy="396.5" r="1.9" fill="#999" stroke="#111" stroke-width="1.1"/>
<circle cx="591.2" cy="399.8" r="1.9" fill="#999" stroke="#111" stroke-width="1.1"/>
<circle cx="587.6" cy="403.8" r="1.9" fill="#999" stroke="#111" stroke-width="1.1"/>
<circle cx="525.8" cy="405.7" r="1.9" fill="#fff" stroke="#111" stroke-width="1.1"/>
<circle cx="533.6" cy="411.5" r="1.9" fill="#fff" stroke="#111" stroke-width="1.1"/>
<circle cx="587.2" cy="409.6" r="1.9" fill="#fff" stroke="#111" stroke-width="1.1"/>
<circle cx="591.7" cy="412.7" r="1.9" fill="#fff" stroke="#111" stroke-width="1.1"/>
<circle cx="576.9" cy="416.6" r="1.9" fill="#fff" stroke="#111" stroke-width="1.1"/>
<circle cx="566.4" cy="418.4" r="1.9" fill="#fff" stroke="#111" stroke-width="1.1"/>
<circle cx="566.4" cy="420.7" r="1.9" fill="#fff" stroke="#111" stroke-width="1.1"/>
<circle cx="546.0" cy="423.2" r="1.9" fill="#fff" stroke="#111" stroke-width="1.1"/>
<circle cx="567.4" cy="434.1" r="1.9" fill="#fff" stroke="#111" stroke-width="1.1"/>
<circle cx="555.4" cy="462.9" r="1.9" fill="#fff" stroke="#111" stroke-width="1.1"/>
<circle cx="514.2" cy="481.6" r="1.9" fill="#fff" stroke="#111" stroke-width="1.1"/>
<circle cx="578.0" cy="484.3" r="1.9" fill="#fff" stroke="#111" stroke-width="1.1"/>
<circle cx="602.2" cy="323.3" r="2.4" fill="#000"/>
<circle cx="626.1" cy="318.8" r="2.4" fill="#000"/>
<circle cx="636.8" cy="313.1" r="2.4" fill="#000"/>
<circle cx="612.1" cy="337.7" r="2.4" fill="#000"/>
<circle cx="623.0" cy="344.9" r="2.4" fill="#000"/>
<circle cx="617.7" cy="351.6" r="2.4" fill="#000"/>
<circle cx="629.2" cy="340.1" r="2.4" fill="#000"/>
<circle cx="633.1" cy="343.8" r="2.4" fill="#000"/>
<circle cx="639.7" cy="344.3" r="2.4" fill="#000"/>
<circle cx="643.0" cy="341.8" r="2.4" fill="#000"/>
<circle cx="639.9" cy="349.7" r="2.4" fill="#000"/>
<circle cx="647.6" cy="321.7" r="2.4" fill="#000"/>
<circle cx="649.1" cy="321.7" r="2.4" fill="#000"/>
<circle cx="647.6" cy="325.9" r="2.4" fill="#000"/>
<circle cx="647.6" cy="336.8" r="2.4" fill="#000"/>
<circle cx="651.1" cy="334.8" r="2.4" fill="#000"/>
<circle cx="647.6" cy="344.9" r="2.4" fill="#000"/>
<circle cx="652.4" cy="344.7" r="2.4" fill="#000"/>
<circle cx="651.5" cy="348.9" r="2.4" fill="#000"/>
<circle cx="655.4" cy="324.6" r="2.4" fill="#000"/>
<circle cx="655.7" cy="326.9" r="2.4" fill="#000"/>
<circle cx="657.8" cy="329.2" r="2.4" fill="#000"/>
<circle cx="662.3" cy="335.7" r="2.4" fill="#000"/>
<circle cx="666.9" cy="331.5" r="2.4" fill="#000"/>
<circle cx="664.4" cy="316.0" r="2.4" fill="#000"/>
<circle cx="671.9" cy="317.3" r="2.4" fill="#000"/>
<circle cx="672.5" cy="327.2" r="2.4" fill="#000"/>
<circle cx="666.0" cy="358.5" r="2.4" fill="#000"/>
<circle cx="670.5" cy="357.4" r="2.4" fill="#000"/>
<circle cx="629.2" cy="368.8" r="2.4" fill="#000"/>
<circle cx="644.5" cy="367.9" r="2.4" fill="#000"/>
<circle cx="657.0" cy="364.9" r="2.4" fill="#000"/>
<circle cx="656.5" cy="368.1" r="2.4" fill="#000"/>
<circle cx="653.5" cy="370.1" r="2.4" fill="#000"/>
<circle cx="660.4" cy="380.2" r="2.4" fill="#000"/>
<circle cx="622.3" cy="386.9" r="2.4" fill="#000"/>
<circle cx="632.8" cy="385.6" r="2.4" fill="#000"/>
<circle cx="639.7" cy="383.6" r="2.4" fill="#000"/>
<circle cx="638.1" cy="389.6" r="2.4" fill="#000"/>
<circle cx="646.2" cy="391.1" r="2.4" fill="#000"/>
<circle cx="649.3" cy="392.1" r="2.4" fill="#000"/>
<circle cx="648.2" cy="396.8" r="2.4" fill="#000"/>
<circle cx="632.4" cy="396.8" r="2.4" fill="#000"/>
<circle cx="613.1" cy="400.1" r="2.4" fill="#000"/>
<circle cx="659.0" cy="395.7" r="2.4" fill="#000"/>
<circle cx="656.8" cy="398.8" r="2.4" fill="#000"/>
<circle cx="661.1" cy="401.0" r="2.4" fill="#000"/>
<circle cx="667.7" cy="394.2" r="2.4" fill="#000"/>
<circle cx="670.2" cy="397.0" r="2.4" fill="#000"/>
<circle cx="670.5" cy="405.3" r="1.9" fill="#999" stroke="#111" stroke-width="1.1"/>
<circle cx="672.5" cy="405.0" r="1.9" fill="#999" stroke="#111" stroke-width="1.1"/>
<circle cx="604.9" cy="408.9" r="1.9" fill="#999" stroke="#111" stroke-width="1.1"/>
<circle cx="635.5" cy="410.8" r="1.9" fill="#999" stroke="#111" stroke-width="1.1"/>
<circle cx="604.9" cy="413.8" r="1.9" fill="#999" stroke="#111" stroke-width="1.1"/>
<circle cx="603.5" cy="417.1" r="1.9" fill="#999" stroke="#111" stroke-width="1.1"/>
<circle cx="612.3" cy="416.8" r="1.9" fill="#999" stroke="#111" stroke-width="1.1"/>
<circle cx="620.4" cy="415.8" r="1.9" fill="#999" stroke="#111" stroke-width="1.1"/>
<circle cx="641.6" cy="413.4" r="1.9" fill="#999" stroke="#111" stroke-width="1.1"/>
<circle cx="646.2" cy="415.8" r="1.9" fill="#999" stroke="#111" stroke-width="1.1"/>
<circle cx="653.9" cy="416.8" r="1.9" fill="#999" stroke="#111" stroke-width="1.1"/>
<circle cx="612.3" cy="422.6" r="1.9" fill="#999" stroke="#111" stroke-width="1.1"/>
<circle cx="605.8" cy="428.2" r="1.9" fill="#999" stroke="#111" stroke-width="1.1"/>
<circle cx="626.5" cy="430.0" r="1.9" fill="#999" stroke="#111" stroke-width="1.1"/>
<circle cx="663.3" cy="428.9" r="1.9" fill="#999" stroke="#111" stroke-width="1.1"/>
<circle cx="627.6" cy="435.5" r="1.9" fill="#999" stroke="#111" stroke-width="1.1"/>
<circle cx="637.7" cy="437.4" r="1.9" fill="#999" stroke="#111" stroke-width="1.1"/>
<circle cx="640.3" cy="440.7" r="1.9" fill="#999" stroke="#111" stroke-width="1.1"/>
<circle cx="643.0" cy="443.0" r="1.9" fill="#999" stroke="#111" stroke-width="1.1"/>
<circle cx="615.8" cy="440.1" r="1.9" fill="#999" stroke="#111" stroke-width="1.1"/>
<circle cx="622.3" cy="442.0" r="1.9" fill="#999" stroke="#111" stroke-width="1.1"/>
<circle cx="624.2" cy="446.2" r="1.9" fill="#999" stroke="#111" stroke-width="1.1"/>
<circle cx="653.7" cy="445.7" r="1.9" fill="#999" stroke="#111" stroke-width="1.1"/>
<circle cx="670.3" cy="446.6" r="1.9" fill="#999" stroke="#111" stroke-width="1.1"/>
<circle cx="665.7" cy="451.2" r="1.9" fill="#999" stroke="#111" stroke-width="1.1"/>
<circle cx="665.7" cy="454.9" r="1.9" fill="#999" stroke="#111" stroke-width="1.1"/>
<circle cx="635.7" cy="456.8" r="1.9" fill="#999" stroke="#111" stroke-width="1.1"/>
<circle cx="673.6" cy="457.9" r="1.9" fill="#999" stroke="#111" stroke-width="1.1"/>
<circle cx="674.5" cy="456.8" r="1.9" fill="#999" stroke="#111" stroke-width="1.1"/>
<circle cx="631.1" cy="461.2" r="1.9" fill="#999" stroke="#111" stroke-width="1.1"/>
<circle cx="625.2" cy="464.7" r="1.9" fill="#999" stroke="#111" stroke-width="1.1"/>
<circle cx="618.4" cy="472.1" r="1.9" fill="#999" stroke="#111" stroke-width="1.1"/>
<circle cx="668.3" cy="471.7" r="1.9" fill="#999" stroke="#111" stroke-width="1.1"/>
<circle cx="602.2" cy="486.4" r="1.9" fill="#999" stroke="#111" stroke-width="1.1"/>
<circle cx="650.8" cy="487.4" r="1.9" fill="#999" stroke="#111" stroke-width="1.1"/>
<rect x="423.3" y="206.3" width="84.2" height="37.3" fill="#fff" stroke="#222" stroke-width="1"/>
<circle cx="430.1" cy="213.8" r="1.9" fill="#000"/>
<circle cx="430.1" cy="221.5" r="1.5" fill="#777" stroke="#111" stroke-width="0.9"/>
<circle cx="430.1" cy="229.1" r="1.5" fill="#fff" stroke="#222" stroke-width="0.9"/>
<line x1="424" y1="236.5" x2="435" y2="236.5" stroke="#444" stroke-width="0.8" stroke-dasharray="1 2"/>
<text x="442" y="216.0" font-size="6.3">Detected by both tests</text>
<text x="442" y="223.7" font-size="6.3">Detected by one test</text>
<text x="442" y="231.3" font-size="6.3">Undetected</text>
<text x="442" y="238.7" font-size="6.3">Test cutoffs</text>
<rect x="423.3" y="484.9" width="84.2" height="37.3" fill="#fff" stroke="#222" stroke-width="1"/>
<circle cx="430.1" cy="492.4" r="1.9" fill="#000"/>
<circle cx="430.1" cy="500.1" r="1.5" fill="#777" stroke="#111" stroke-width="0.9"/>
<circle cx="430.1" cy="507.7" r="1.5" fill="#fff" stroke="#222" stroke-width="0.9"/>
<line x1="424" y1="515.1" x2="435" y2="515.1" stroke="#444" stroke-width="0.8" stroke-dasharray="1 2"/>
<text x="442" y="494.6" font-size="6.3">Detected by both tests</text>
<text x="442" y="502.3" font-size="6.3">Detected by one test</text>
<text x="442" y="509.9" font-size="6.3">Undetected</text>
<text x="442" y="517.3" font-size="6.3">Test cutoffs</text>
<text x="483.0" y="48.2" font-size="8.0">15.7%</text>
<text x="625.9" y="48.6" font-size="8.0">2.53%</text>
<text x="482.9" y="174.6" font-size="8.0">68.7%</text>
<text x="626.2" y="174.7" font-size="8.0">13.1%</text>
<text x="476.5" y="332.8" font-size="8.0">8.33%</text>
<text x="616.7" y="332.8" font-size="8.0">43.3%</text>
<text x="477.0" y="459.9" font-size="8.0">16.7%</text>
<text x="600.3" y="459.9" font-size="8.0">31.7%</text>
<text x="55.3" y="13.8" font-size="19.5" font-weight="bold">a</text>
<text x="384.7" y="13.8" font-size="19.5" font-weight="bold">b</text>
<text x="55.3" y="295.5" font-size="19.5" font-weight="bold">c</text>
<text x="384.5" y="295.5" font-size="19.5" font-weight="bold">d</text>
<text x="21.9" y="108.7" text-anchor="middle" font-size="9.4" font-weight="bold">Adenoma</text>
<text x="21.9" y="120.1" text-anchor="middle" font-size="9.4" font-weight="bold">vs.</text>
<text x="21.9" y="131.2" text-anchor="middle" font-size="9.4" font-weight="bold">Normal</text>
<text x="16.1" y="386.9" text-anchor="middle" font-size="9.4" font-weight="bold">Cancer</text>
<text x="16.1" y="398.3" text-anchor="middle" font-size="9.4" font-weight="bold">vs.</text>
<text x="16.1" y="409.4" text-anchor="middle" font-size="9.4" font-weight="bold">Normal</text>
<path d="M423 15.50V244.90" fill="none" stroke="#222" stroke-width="1.2"/>
<path d="M422.5 244.40H685" fill="none" stroke="#333" stroke-width="1"/>
<path d="M684.5 244.90V15.50" fill="none" stroke="#000" stroke-width="1"/>
<line x1="422.5" y1="16.00" x2="685" y2="16.00" stroke="#222" stroke-width="1.15"/>
<line x1="418" y1="235.9" x2="423.3" y2="235.9" stroke="#222" stroke-width="1"/>
<text transform="translate(412,235.9) rotate(-90)" text-anchor="middle" font-size="7.9">0.0</text>
<line x1="418" y1="193.6" x2="423.3" y2="193.6" stroke="#222" stroke-width="1"/>
<text transform="translate(412,193.6) rotate(-90)" text-anchor="middle" font-size="7.9">0.2</text>
<line x1="418" y1="151.3" x2="423.3" y2="151.3" stroke="#222" stroke-width="1"/>
<text transform="translate(412,151.3) rotate(-90)" text-anchor="middle" font-size="7.9">0.4</text>
<line x1="418" y1="109.0" x2="423.3" y2="109.0" stroke="#222" stroke-width="1"/>
<text transform="translate(412,109.0) rotate(-90)" text-anchor="middle" font-size="7.9">0.6</text>
<line x1="418" y1="66.7" x2="423.3" y2="66.7" stroke="#222" stroke-width="1"/>
<text transform="translate(412,66.7) rotate(-90)" text-anchor="middle" font-size="7.9">0.8</text>
<line x1="418" y1="24.5" x2="423.3" y2="24.5" stroke="#222" stroke-width="1"/>
<text transform="translate(412,24.5) rotate(-90)" text-anchor="middle" font-size="7.9">1.0</text>
<line x1="440.5" y1="243.8" x2="440.5" y2="249.4" stroke="#222" stroke-width="1"/>
<text x="440.5" y="261.0" text-anchor="middle" font-size="7.9">0</text>
<line x1="496.0" y1="243.8" x2="496.0" y2="249.4" stroke="#222" stroke-width="1"/>
<text x="496.0" y="261.0" text-anchor="middle" font-size="7.9">1</text>
<line x1="546.9" y1="243.8" x2="546.9" y2="249.4" stroke="#222" stroke-width="1"/>
<text x="546.9" y="261.0" text-anchor="middle" font-size="7.9">10</text>
<line x1="600.1" y1="243.8" x2="600.1" y2="249.4" stroke="#222" stroke-width="1"/>
<text x="600.1" y="261.0" text-anchor="middle" font-size="7.9">100</text>
<line x1="653.0" y1="243.8" x2="653.0" y2="249.4" stroke="#222" stroke-width="1"/>
<text x="653.0" y="261.0" text-anchor="middle" font-size="7.9">1000</text>
<text x="554" y="275.5" text-anchor="middle" font-size="9.5">FIT Result (ng/ml)</text>
<text transform="translate(392.4,129.5) rotate(-90)" text-anchor="middle" font-size="9.5">Microbiota Model − Probability of Adenoma</text>
<line x1="600.0" y1="16.5" x2="600.0" y2="243.8" stroke="#222" stroke-width="0.9" stroke-dasharray="1 1.4"/>
<line x1="423.3" y1="97.5" x2="684.6" y2="97.5" stroke="#222" stroke-width="0.9" stroke-dasharray="1 1.4"/>
<path d="M423 294.00V523.10" fill="none" stroke="#222" stroke-width="1.2"/>
<path d="M422.5 522.60H685" fill="none" stroke="#333" stroke-width="1"/>
<path d="M684.5 523.10V294.00" fill="none" stroke="#000" stroke-width="1"/>
<line x1="422.5" y1="294.50" x2="685" y2="294.50" stroke="#222" stroke-width="1"/>
<line x1="418" y1="514.5" x2="423.3" y2="514.5" stroke="#222" stroke-width="1"/>
<text transform="translate(412,514.5) rotate(-90)" text-anchor="middle" font-size="7.9">0.0</text>
<line x1="418" y1="472.1" x2="423.3" y2="472.1" stroke="#222" stroke-width="1"/>
<text transform="translate(412,472.1) rotate(-90)" text-anchor="middle" font-size="7.9">0.2</text>
<line x1="418" y1="429.8" x2="423.3" y2="429.8" stroke="#222" stroke-width="1"/>
<text transform="translate(412,429.8) rotate(-90)" text-anchor="middle" font-size="7.9">0.4</text>
<line x1="418" y1="387.5" x2="423.3" y2="387.5" stroke="#222" stroke-width="1"/>
<text transform="translate(412,387.5) rotate(-90)" text-anchor="middle" font-size="7.9">0.6</text>
<line x1="418" y1="345.1" x2="423.3" y2="345.1" stroke="#222" stroke-width="1"/>
<text transform="translate(412,345.1) rotate(-90)" text-anchor="middle" font-size="7.9">0.8</text>
<line x1="418" y1="302.8" x2="423.3" y2="302.8" stroke="#222" stroke-width="1"/>
<text transform="translate(412,302.8) rotate(-90)" text-anchor="middle" font-size="7.9">1.0</text>
<line x1="433.8" y1="522.4" x2="433.8" y2="528.0" stroke="#222" stroke-width="1"/>
<text x="433.8" y="539.1" text-anchor="middle" font-size="7.9">0</text>
<line x1="489.6" y1="522.4" x2="489.6" y2="528.0" stroke="#222" stroke-width="1"/>
<text x="489.6" y="539.1" text-anchor="middle" font-size="7.9">1</text>
<line x1="541.4" y1="522.4" x2="541.4" y2="528.0" stroke="#222" stroke-width="1"/>
<text x="541.4" y="539.1" text-anchor="middle" font-size="7.9">10</text>
<line x1="595.3" y1="522.4" x2="595.3" y2="528.0" stroke="#222" stroke-width="1"/>
<text x="595.3" y="539.1" text-anchor="middle" font-size="7.9">100</text>
<line x1="650.0" y1="522.4" x2="650.0" y2="528.0" stroke="#222" stroke-width="1"/>
<text x="650.0" y="539.1" text-anchor="middle" font-size="7.9">1000</text>
<text x="554" y="554.1" text-anchor="middle" font-size="9.5">FIT Result (ng/ml)</text>
<text transform="translate(392.4,409.6) rotate(-90)" text-anchor="middle" font-size="9.5">Microbiota Model − Probability of Cancer</text>
<line x1="595.5" y1="295.1" x2="595.5" y2="522.4" stroke="#222" stroke-width="0.9" stroke-dasharray="1 1.4"/>
<line x1="423.3" y1="404.5" x2="684.6" y2="404.5" stroke="#222" stroke-width="0.9" stroke-dasharray="1 1.4"/>
</svg></body></html>
